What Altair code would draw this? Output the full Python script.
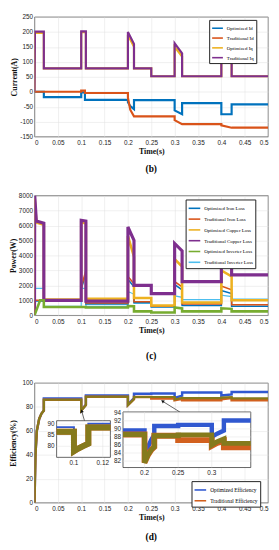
import math
import altair as alt
import pandas as pd

# ---------------- (b) currents ----------------
t_iq = [0, 0.001, 0.02, 0.02, 0.1, 0.1, 0.11, 0.11, 0.2, 0.2, 0.213, 0.213,
        0.25, 0.25, 0.3, 0.3, 0.316, 0.316, 0.4, 0.4, 0.422, 0.422, 0.5]
iq_opt = [0, 197, 197, 78, 78, 199, 199, 78, 78, 190, 150, 78,
          78, 52, 52, 150, 118, 52, 52, 120, 97, 52, 52]
iq_trad = [0, 201, 201, 78, 78, 202, 202, 78, 78, 200, 160, 78,
           78, 52, 52, 162, 128, 52, 52, 128, 104, 52, 52]
t_id = [0, 0.02, 0.02, 0.1, 0.1, 0.108, 0.108, 0.2, 0.2, 0.205, 0.213, 0.213,
        0.3, 0.3, 0.316, 0.316, 0.4, 0.4, 0.422, 0.422, 0.5]
id_opt = [0, 0, -18, -18, -2, -2, -27, -27, -35, -48, -58, -28,
          -28, -62, -75, -38, -38, -75, -75, -42, -42]
id_trad = [0, 0, 0, 0, 4, 4, -4, -4, -20, -60, -82, -82,
           -82, -95, -108, -108, -108, -112, -120, -120, -120]
b_series = ["Optimized Id", "Traditional Id", "Optimized Iq", "Traditional Iq"]
b_colors = ["#0072BD", "#D95319", "#EDB120", "#7E2F8E"]
b_yticks = [-150, -100, -50, 0, 50, 100, 150, 200, 250]

# ---------------- (c) losses ----------------
tc = [0, 0.0005, 0.004, 0.02, 0.02, 0.1, 0.1, 0.11, 0.11, 0.2, 0.2, 0.213,
      0.213, 0.25, 0.25, 0.3, 0.3, 0.316, 0.316, 0.4, 0.4, 0.422, 0.422, 0.5]
cu_trad = [0, 8000, 6300, 6150, 1000, 1000, 6350, 6300, 950, 950, 5900, 5000,
           2000, 2000, 1450, 1450, 4800, 4300, 2250, 2250, 4300, 4000, 2700, 2700]
cu_opt = [0, 7800, 6200, 6050, 1060, 1060, 6200, 6150, 1100, 1100, 5300, 3900,
          1150, 1150, 650, 650, 3750, 3250, 850, 850, 3000, 2600, 1000, 1000]
fe_trad = [0, 1000, 1000, 1000, 1000, 1000, 1850, 3000, 820, 820, 2600, 2100,
           900, 900, 600, 600, 2250, 1900, 750, 750, 1950, 1700, 700, 700]
fe_opt = [0, 950, 950, 950, 950, 950, 1750, 2800, 760, 760, 2400, 1900,
          850, 850, 550, 550, 2050, 1700, 650, 650, 1650, 1450, 600, 600]
tg = [0, 0.012, 0.02, 0.02, 0.1, 0.1, 0.11, 0.11, 0.2, 0.2, 0.213, 0.213,
      0.25, 0.25, 0.3, 0.3, 0.316, 0.316, 0.4, 0.4, 0.422, 0.422, 0.5]
inv_opt = [0, 1000, 1000, 560, 560, 560, 560, 520, 520, 620, 600, 260,
           260, 190, 190, 520, 460, 260, 260, 470, 430, 260, 260]
t_band = [0.002, 0.02, 0.02, 0.1, 0.1, 0.11, 0.11, 0.2, 0.2, 0.213, 0.213,
          0.25, 0.25, 0.3, 0.3, 0.316, 0.316, 0.4, 0.4, 0.422, 0.422, 0.5]
inv_trad_lo = [150, 150, 180, 180, 850, 850, 180, 180, 750, 700, 300,
               300, 250, 250, 500, 450, 420, 420, 550, 500, 380, 380]
inv_trad_hi = [1800, 1800, 600, 600, 1800, 1800, 600, 600, 1600, 1400, 800,
               800, 650, 650, 1300, 1200, 1050, 1050, 1350, 1250, 1080, 1080]
c_series = ["Optimized Iron Loss", "Traditional Iron Loss", "Optimized Copper Loss",
            "Traditional Copper Loss", "Optimized Inverter Loss", "Traditional Inverter Loss"]
c_colors = ["#0072BD", "#D95319", "#EDB120", "#7E2F8E", "#77AC30", "#4DBEEE"]
c_yticks = [0, 1000, 2000, 3000, 4000, 5000, 6000, 7000, 8000]

# ---------------- (d) efficiency ----------------
td = [0, 0.002, 0.005, 0.01, 0.015, 0.02, 0.02, 0.1, 0.1, 0.11, 0.11, 0.2, 0.2,
      0.213, 0.213, 0.25, 0.25, 0.3, 0.3, 0.316, 0.316, 0.4, 0.4, 0.422, 0.422, 0.5]
eff_opt = [0, 40, 60, 70, 74.5, 77, 87, 87, 77, 82, 89.5, 89.5, 82,
           87.5, 91, 91, 91.3, 91.3, 87.5, 89.5, 92, 92, 89.5, 90.5, 92.5, 92.5]
eff_trad = [0, 40, 60, 70, 74.5, 77, 86, 86, 77, 81.5, 88.5, 88.5, 81.5,
            86.5, 88.3, 88.3, 87, 87, 85.5, 86.8, 85.6, 85.6, 86.5, 87.5, 85.6, 85.6]
eff_trad_hi = [0, 40, 60, 70, 74.5, 77, 86, 86, 77, 81.5, 88.5, 88.5, 81.5,
               86.5, 88.3, 88.3, 88.3, 88.3, 86.2, 87.6, 87.4, 87.4, 87.8, 88.2, 87.2, 87.2]
d_series = ["Optimized Efficiency", "Traditional Efficiency"]
d_colors = ["#3058D0", "#D2601E"]
olive = "#857A1C"
d_yticks = [0, 20, 40, 60, 80, 100]

# inset 1 (zoom near 0.1 s)
t_in1 = [0.088, 0.1, 0.1, 0.103, 0.106, 0.11, 0.11, 0.1253]
in1_opt = [88.7, 88.7, 78.6, 79.8, 80.8, 82, 90.2, 90.2]
in1_trad = [86.6, 86.6, 77.8, 79, 80, 81.2, 88.5, 88.5]
in1_xdom = [0.088, 0.1253]
in1_ydom = [75, 91.6]
in1_xticks = [0.1, 0.12]
in1_yticks = [80, 85, 90]

# inset 2 (zoom 0.17 - 0.36 s)
t_in2 = [0.168, 0.2, 0.2, 0.205, 0.21, 0.2145, 0.2145, 0.25, 0.25, 0.3, 0.3, 0.308, 0.318, 0.318, 0.358]
in2_opt = [89.6, 89.6, 83.0, 85.5, 87.3, 88.5, 90.7, 90.7, 91.0, 91.0, 88.0, 88.8, 89.6, 92.1, 92.1]
in2_trad_hi = [88.6, 88.6, 81.6, 83.5, 84.8, 85.5, 88.3, 88.3, 88.5, 88.5, 86.0, 86.8, 87.5, 86.4, 86.4]
in2_trad = [88.6, 88.6, 81.6, 83.5, 84.8, 85.5, 88.3, 88.3, 87.2, 87.2, 85.8, 86.5, 87.0, 85.4, 85.4]
in2_xdom = [0.168, 0.358]
in2_ydom = [80.4, 94.2]
in2_xticks = [0.2, 0.25, 0.3]
in2_yticks = [82, 84, 86, 88, 90, 92, 94]

# arrows (tail at inset, head at curve), in main-plot data units
arr_t0 = [0.107, 0.311]
arr_e0 = [68.5, 75.8]
arr_t1 = [0.101, 0.274]
arr_e1 = [76.6, 84.8]

t_ticks = [0, 0.05, 0.1, 0.15, 0.2, 0.25, 0.3, 0.35, 0.4, 0.45, 0.5]

# ---------------- layout ----------------
W, H = 238, 122
SERIF = "Liberation Serif"
SANS = "Liberation Sans"


def df(t, v, name=""):
    return pd.DataFrame({"t": t, "v": v, "s": [name] * len(t), "i": list(range(len(t)))})


def time_axis():
    return alt.Axis(values=t_ticks, format="~g", title="Time(s)", titlePadding=2, labelPadding=3)


def y_axis(vals, title, tp=1):
    return alt.Axis(values=vals, title=title, titlePadding=tp, labelPadding=2,
                    labelExpr="datum.value + ''")


def legend(x, y, fs, size):
    return alt.Legend(title=None, orient="none", legendX=x, legendY=y, symbolType="stroke",
                      symbolSize=size, symbolStrokeWidth=1.6, labelFont=SERIF, labelFontSize=fs,
                      padding=2, rowPadding=0, labelOffset=3, strokeColor="#222",
                      fillColor="white", labelLimit=300, symbolOffset=0)


def panel_title(txt, off):
    return alt.TitleParams(txt, orient="bottom", font=SERIF, fontWeight="bold", fontSize=9.5,
                           offset=off, anchor="middle")


def series_layer(d, xs, ys, xaxis, yaxis, color_enc, width):
    return alt.Chart(d).mark_line(strokeWidth=width, clip=True).encode(
        x=alt.X("t:Q", scale=xs, axis=xaxis),
        y=alt.Y("v:Q", scale=ys, axis=yaxis),
        color=color_enc,
        order="i:Q",
    )


# ---- panel (b)
xs_main = alt.Scale(domain=[0, 0.5], nice=False, zero=False)
ys_b = alt.Scale(domain=[-150, 250], nice=False, zero=False)
cb = alt.Color("s:N", scale=alt.Scale(domain=b_series, range=b_colors),
               legend=legend(178, 3, 5, 120))
b_data = [(df(t_id, id_opt, b_series[0]), 2.2), (df(t_id, id_trad, b_series[1]), 2.2),
          (df(t_iq, iq_opt, b_series[2]), 2.2), (df(t_iq, iq_trad, b_series[3]), 2.2)]
pb = alt.layer(*[series_layer(d, xs_main, ys_b, time_axis(), y_axis(b_yticks, "Current(A)"), cb, w)
                 for d, w in b_data]).properties(width=W, height=H, title=panel_title("(b)", 8))

# ---- panel (c)
ys_c = alt.Scale(domain=[0, 8000], nice=False, zero=False)
cc = alt.Color("s:N", scale=alt.Scale(domain=c_series, range=c_colors),
               legend=legend(154, 4, 5, 140))
band = alt.Chart(pd.DataFrame({"t": t_band, "lo": inv_trad_lo, "hi": inv_trad_hi,
                               "i": list(range(len(t_band)))})).mark_area(
    color="#8FAEEA", opacity=0.95, clip=True).encode(
    x=alt.X("t:Q", scale=xs_main, axis=time_axis()),
    y=alt.Y("lo:Q", scale=ys_c, axis=y_axis(c_yticks, "Power(W)")),
    y2="hi:Q", order="i:Q")
c_data = [(df(t_band, inv_trad_hi, c_series[5]), 1.2),
          (df(tc, fe_opt, c_series[0]), 1.6), (df(tc, fe_trad, c_series[1]), 1.6),
          (df(tc, cu_opt, c_series[2]), 2.6), (df(tc, cu_trad, c_series[3]), 3.2),
          (df(tg, inv_opt, c_series[4]), 2.6)]
pc = alt.layer(band, *[series_layer(d, xs_main, ys_c, time_axis(), y_axis(c_yticks, "Power(W)"), cc, w)
                       for d, w in c_data]).properties(width=W, height=H, title=panel_title("(c)", 17))

# ---- panel (d)
ys_d = alt.Scale(domain=[0, 100], nice=False, zero=False)
cd = alt.Color("s:N", scale=alt.Scale(domain=d_series, range=d_colors),
               legend=legend(160, 100, 5.5, 140))
yax_d = y_axis(d_yticks, "Efficiency(%)", 5)
d_lines = [series_layer(df(td, eff_opt, d_series[0]), xs_main, ys_d, time_axis(), yax_d, cd, 2.5),
           series_layer(df(td, eff_trad, d_series[1]), xs_main, ys_d, time_axis(), yax_d, cd, 2.5),
           alt.Chart(df(td, eff_trad_hi)).mark_line(strokeWidth=2.2, color=olive, clip=True).encode(
               x=alt.X("t:Q", scale=xs_main, axis=time_axis()),
               y=alt.Y("v:Q", scale=ys_d, axis=yax_d), order="i:Q")]

arr_angle = [math.degrees(math.atan2((b - a) / 0.5 * W, (d - c) / 100 * H)) % 360
             for a, b, c, d in zip(arr_t0, arr_t1, arr_e0, arr_e1)]
arr_df = pd.DataFrame({"t0": arr_t0, "e0": arr_e0, "t1": arr_t1, "e1": arr_e1, "ang": arr_angle})
arr_line = alt.Chart(arr_df).mark_rule(color="#222", strokeWidth=0.7).encode(
    x=alt.X("t0:Q", scale=xs_main, axis=time_axis()), x2="t1:Q",
    y=alt.Y("e0:Q", scale=ys_d, axis=yax_d), y2="e1:Q")
arr_head = alt.Chart(arr_df).mark_point(shape="triangle-up", filled=True, color="#111", size=14,
                                        opacity=1).encode(
    x=alt.X("t1:Q", scale=xs_main, axis=time_axis()),
    y=alt.Y("e1:Q", scale=ys_d, axis=yax_d),
    angle=alt.Angle("ang:Q", scale=None))
main_d = alt.layer(*d_lines, arr_line, arr_head)


def inset(t, opt, trad, trad_hi, xdom, ydom, xfrac, yfrac, xticks, yticks, w_opt, w_trad, w_hi):
    xr = [xfrac[0] * W, xfrac[1] * W]
    yr = [yfrac[1] * H, yfrac[0] * H]
    xs = alt.Scale(domain=xdom, range=xr, nice=False, zero=False)
    ys = alt.Scale(domain=ydom, range=yr, nice=False, zero=False)
    box = alt.Chart(pd.DataFrame({"x0": [xdom[0]], "x1": [xdom[1]], "y0": [ydom[0]], "y1": [ydom[1]]})
                    ).mark_rect(fill="white", stroke="#222", strokeWidth=0.7).encode(
        x=alt.X("x0:Q", scale=xs, axis=None), x2="x1:Q",
        y=alt.Y("y0:Q", scale=ys, axis=None), y2="y1:Q")
    xt = pd.DataFrame({"g": xticks, "lbl": [("%g" % v) for v in xticks]})
    yt = pd.DataFrame({"g": yticks, "lbl": [("%g" % v) for v in yticks]})
    vgrid = alt.Chart(xt).mark_rule(color="#E2E2E2", strokeWidth=0.5).encode(
        x=alt.X("g:Q", scale=xs, axis=None), y=alt.value(yr[1]), y2=alt.value(yr[0]))
    hgrid = alt.Chart(yt).mark_rule(color="#E2E2E2", strokeWidth=0.5).encode(
        y=alt.Y("g:Q", scale=ys, axis=None), x=alt.value(xr[0]), x2=alt.value(xr[1]))
    xlab = alt.Chart(xt).mark_text(font=SANS, fontSize=6.5, color="#222", baseline="top").encode(
        x=alt.X("g:Q", scale=xs, axis=None), y=alt.value(yr[0] + 3), text="lbl:N")
    ylab = alt.Chart(yt).mark_text(font=SANS, fontSize=6.5, color="#222", align="right",
                                   baseline="middle").encode(
        y=alt.Y("g:Q", scale=ys, axis=None), x=alt.value(xr[0] - 2), text="lbl:N")
    lines = []
    for vals, col, wd in [(opt, d_colors[0], w_opt), (trad, d_colors[1], w_trad), (trad_hi, olive, w_hi)]:
        lines.append(alt.Chart(df(t, vals)).mark_line(color=col, strokeWidth=wd).encode(
            x=alt.X("t:Q", scale=xs, axis=None), y=alt.Y("v:Q", scale=ys, axis=None), order="i:Q"))
    return alt.layer(box, vgrid, hgrid, *lines, xlab, ylab)


inset1 = inset(t_in1, in1_opt, in1_trad, in1_trad, in1_xdom, in1_ydom, [0.0947, 0.325],
               [0.315, 0.621], in1_xticks, in1_yticks, 2.0, 6.0, 6.0)
inset2 = inset(t_in2, in2_opt, in2_trad, in2_trad_hi, in2_xdom, in2_ydom, [0.379, 0.926],
               [0.242, 0.706], in2_xticks, in2_yticks, 4.5, 6.0, 5.0)

pd_chart = alt.layer(main_d, inset1, inset2).resolve_scale(
    x="independent", y="independent").properties(width=W, height=H, title=panel_title("(d)", 10))

chart = alt.vconcat(pb, pc, pd_chart, spacing=18).resolve_scale(
    color="independent", x="independent", y="independent"
).resolve_legend(color="independent").properties(
    padding={"left": 0, "top": 0, "right": 2, "bottom": 0}
).configure_view(stroke="#222", strokeWidth=0.7).configure_axis(
    labelFont=SANS, labelFontSize=6.5, labelColor="#222", titleFont=SERIF, titleFontWeight="bold",
    titleFontSize=8, titleColor="#111", grid=True, gridColor="#E0E0E0", gridWidth=0.5,
    domain=False, ticks=False)

chart.save("out.html", embed_options={"renderer": "svg", "actions": False})
